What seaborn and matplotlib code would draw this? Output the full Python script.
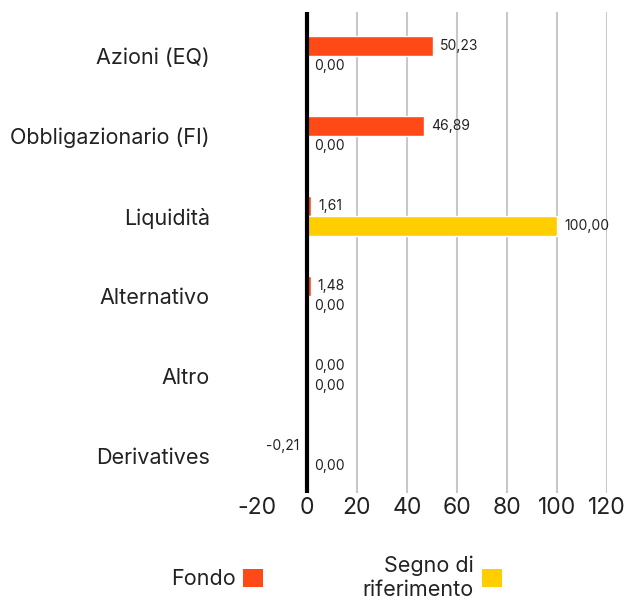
import matplotlib
matplotlib.use("Agg")
import matplotlib.pyplot as plt
import seaborn as sns
import pandas as pd
from matplotlib.patches import Patch

categories = ["Azioni (EQ)", "Obbligazionario (FI)", "Liquidità", "Alternativo", "Altro", "Derivatives"]
fondo = [50.23, 46.89, 1.61, 1.48, 0.00, -0.21]
benchmark = [0.00, 0.00, 100.00, 0.00, 0.00, 0.00]
series_names = ["Fondo", "Segno di\nriferimento"]
colors = ["#FF4A17", "#FFCE00"]
xticks = [-20, 0, 20, 40, 60, 80, 100, 120]

df = pd.DataFrame({
    "category": categories * 2,
    "value": fondo + benchmark,
    "series": [series_names[0]] * len(categories) + [series_names[1]] * len(categories),
})

sns.set_theme(style="white")
plt.rcParams["font.family"] = ["Inter", "DejaVu Sans"]

fig = plt.figure(figsize=(6.26, 6.04), dpi=100)
ax = fig.add_axes([0.4105, 0.1838, 0.5591, 0.7963])

sns.barplot(data=df, x="value", y="category", hue="series", orient="h",
            palette=colors, width=0.5, ax=ax, legend=False, saturation=1)

for cont in ax.containers:
    labels = [f"{b.get_width():.2f}".replace(".", ",") for b in cont]
    ax.bar_label(cont, labels=labels, padding=5, fontsize=10, color="#222222")

ax.set_xlim(-20, 120)
ax.set_ylim(5.46, -0.55)
ax.set_xticks(xticks)
ax.set_xticklabels([str(t) for t in xticks], fontsize=16.5, color="#222222")
ax.tick_params(axis="y", labelsize=15.5, pad=34, length=0, labelcolor="#222222")
ax.tick_params(axis="x", length=0, pad=3)
for t in xticks:
    if t > 0:
        ax.axvline(t, color="#c8c8c8", lw=1.5, zorder=0)
ax.axvline(0, color="black", lw=3, zorder=5)
for s in ax.spines.values():
    s.set_visible(False)
ax.set_xlabel("")
ax.set_ylabel("")

handles = [Patch(facecolor=c, edgecolor="none") for c in colors]
leg = fig.legend(handles, series_names, loc="lower center", bbox_to_anchor=(0.537, -0.025),
                 ncol=2, frameon=False, markerfirst=False, fontsize=15.5,
                 handlelength=0.93, handleheight=0.93, handletextpad=0.37,
                 columnspacing=4.6)
for t in leg.get_texts():
    t.set_multialignment("right")
    t.set_linespacing(1.25)
    t.set_color("#222222")

fig.savefig("out.png", dpi=100)
